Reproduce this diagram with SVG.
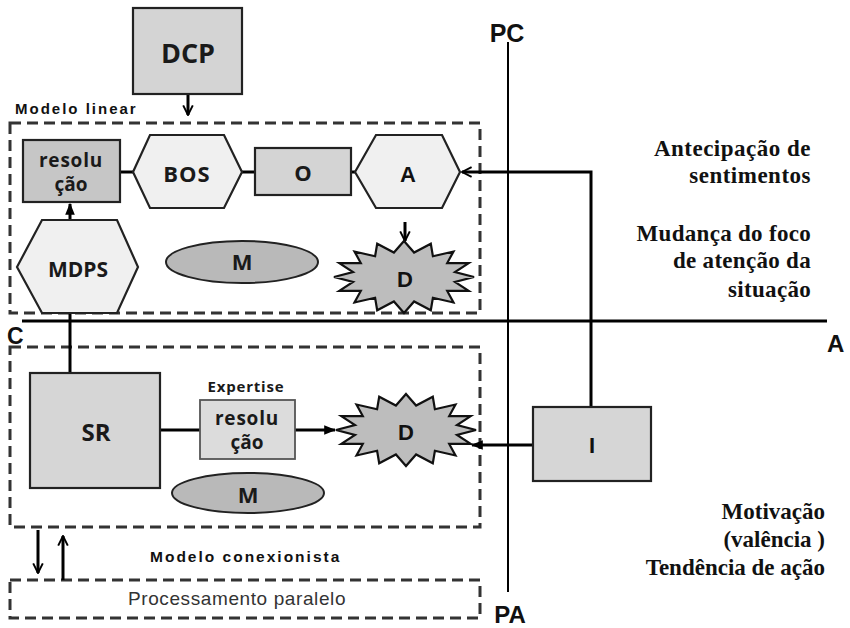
<svg xmlns="http://www.w3.org/2000/svg" width="850" height="628" viewBox="0 0 850 628">
<style>
.box{stroke:#222;stroke-width:2.2}
.dash{fill:none;stroke:#333;stroke-width:3;stroke-dasharray:11 6}
.ln{fill:none;stroke:#000;stroke-width:3}
.sb{font-family:"Open Sans","Liberation Sans",sans-serif;font-weight:bold;fill:#1a1a1a;text-anchor:middle}
.ab{font-family:"Liberation Sans",Arial,sans-serif;font-weight:bold;fill:#111}
.rt{font-family:"Liberation Serif","DejaVu Serif","Times New Roman",serif;font-weight:bold;font-size:23px;fill:#111;text-anchor:end}
.hex{fill:#f0f0f0;stroke:#222;stroke-width:2.2}
.star{fill:#bdbdbd;stroke:#111;stroke-width:2.2}
</style>
<defs>
<marker id="open" viewBox="0 0 10 10" refX="9" refY="5" markerWidth="4" markerHeight="4" orient="auto" markerUnits="strokeWidth">
<path d="M1,1 L9,5 L1,9" fill="none" stroke="#000" stroke-width="1.6"/>
</marker>
<marker id="fill" viewBox="0 0 10 10" refX="9" refY="5" markerWidth="4" markerHeight="4" orient="auto" markerUnits="strokeWidth">
<path d="M0,1 L10,5 L0,9 Z" fill="#000"/>
</marker>
<path id="starshape" d="M0,-36 L10.1,-24.5 L26.8,-33.3 L28.9,-20.8 L49.5,-25.5 L43.2,-13.9 L64.7,-13.8 L51,-4.9 L70,0 L51,4.9 L64.7,13.8 L43.2,13.9 L49.5,25.5 L28.9,20.8 L26.8,33.3 L10.1,24.5 L0,36 L-10.1,24.5 L-26.8,33.3 L-28.9,20.8 L-49.5,25.5 L-43.2,13.9 L-64.7,13.8 L-51,4.9 L-70,0 L-51,-4.9 L-64.7,-13.8 L-43.2,-13.9 L-49.5,-25.5 L-28.9,-20.8 L-26.8,-33.3 L-10.1,-24.5 Z"/>
</defs>
<rect width="850" height="628" fill="#fff"/>

<g id="regions">
<rect class="dash" x="10" y="123" width="470" height="190"/>
<rect class="dash" x="10" y="347" width="470" height="180"/>
<rect class="dash" x="10" y="580" width="470" height="38"/>
<text class="ab" x="15" y="114" font-size="15" letter-spacing="2">Modelo linear</text>
<text class="ab" x="150" y="562" font-size="15.5" letter-spacing="2">Modelo conexionista</text>
<text x="237" y="605" font-family="Liberation Sans, Arial, sans-serif" font-size="19" fill="#333" text-anchor="middle" letter-spacing="0.6">Processamento paralelo</text>
</g>

<g id="axes">
<line x1="22" y1="321" x2="827" y2="321" stroke="#000" stroke-width="3"/>
<line x1="508" y1="42" x2="508" y2="592" stroke="#000" stroke-width="2"/>
<text class="ab" x="507" y="42" font-size="25" text-anchor="middle">PC</text>
<text class="ab" x="510" y="623" font-size="24" text-anchor="middle">PA</text>
<text class="ab" x="7" y="344" font-size="23">C</text>
<text class="ab" x="827" y="352" font-size="24">A</text>
</g>

<g id="labels">
<text class="rt" x="811" y="156" letter-spacing="0.5">Antecipação de</text>
<text class="rt" x="811" y="183" letter-spacing="0.5">sentimentos</text>
<text class="rt" x="811" y="241" letter-spacing="0.3">Mudança do foco</text>
<text class="rt" x="811" y="268" letter-spacing="0.3">de atenção da</text>
<text class="rt" x="811" y="297" letter-spacing="0.3">situação</text>
<text class="rt" x="825" y="519">Motivação</text>
<text class="rt" x="825" y="547">(valência )</text>
<text class="rt" x="825" y="575">Tendência de ação</text>
</g>

<g id="connectors">
<line class="ln" x1="188" y1="94" x2="188" y2="115" stroke-width="2" marker-end="url(#open)"/>
<line class="ln" x1="120" y1="172" x2="133" y2="172"/>
<line class="ln" x1="242" y1="172" x2="255" y2="172"/>
<line class="ln" x1="351" y1="172" x2="355" y2="172"/>
<line class="ln" x1="70" y1="220" x2="70" y2="204" marker-end="url(#fill)"/>
<line class="ln" x1="405" y1="222" x2="405" y2="241" stroke-width="2" marker-end="url(#open)"/>
<path class="ln" d="M591,407 V172 H462" marker-end="url(#open)"/>
<line class="ln" x1="70" y1="313" x2="70" y2="373"/>
<line class="ln" x1="160" y1="430" x2="200" y2="430"/>
<line class="ln" x1="295" y1="430" x2="335" y2="430" marker-end="url(#fill)"/>
<line class="ln" x1="533" y1="445" x2="472" y2="445" marker-end="url(#fill)"/>
<line class="ln" x1="38" y1="530" x2="38" y2="573" stroke-width="2" marker-end="url(#open)"/>
<line class="ln" x1="63" y1="580" x2="63" y2="536" stroke-width="2" marker-end="url(#open)"/>
</g>

<g id="node-dcp">
<rect class="box" x="133" y="8" width="109" height="86" fill="#d4d4d4"/>
<text class="sb" x="188" y="63" font-size="27">DCP</text>
</g>

<g id="node-resolucao-top">
<rect class="box" x="23" y="140" width="97" height="62" fill="#c6c6c6"/>
<text class="sb" x="71" y="167" font-size="19" letter-spacing="0.8">resolu</text>
<text class="sb" x="71" y="191" font-size="19">ção</text>
</g>

<g id="node-bos">
<polygon class="hex" points="133,172 150,135 224,135 242,172 224,208 150,208"/>
<text class="sb" x="187" y="182" font-size="22" letter-spacing="1">BOS</text>
</g>

<g id="node-o">
<rect class="box" x="255" y="148" width="96" height="47" fill="#d4d4d4"/>
<text class="sb" x="303" y="181" font-size="22">O</text>
</g>

<g id="node-a">
<polygon class="hex" points="355,172 376,135 442,135 460,172 442,208 376,208"/>
<text class="ab" x="408" y="182" font-size="22" text-anchor="middle">A</text>
</g>

<g id="node-mdps">
<polygon class="hex" points="17,267 42,220 117,220 138,267 117,313 42,313"/>
<text class="sb" x="78" y="277" font-size="21">MDPS</text>
</g>

<g id="node-m-top">
<ellipse cx="242" cy="262" rx="76" ry="21" fill="#b9b9b9" stroke="#222" stroke-width="2"/>
<text class="sb" x="242" y="270" font-size="22">M</text>
</g>

<g id="node-d-top">
<use href="#starshape" class="star" transform="translate(404,277)"/>
<text class="ab" x="405" y="287" font-size="22" text-anchor="middle">D</text>
</g>

<g id="node-sr">
<rect class="box" x="30" y="373" width="130" height="115" fill="#d6d6d6"/>
<text class="sb" x="96" y="441" font-size="24">SR</text>
</g>

<g id="node-expertise">
<text class="sb" x="246" y="392" font-size="15" letter-spacing="0.8">Expertise</text>
<rect x="200" y="400" width="95" height="59" fill="#dcdcdc" stroke="#555" stroke-width="1.8"/>
<text class="sb" x="247" y="425" font-size="19" letter-spacing="0.8">resolu</text>
<text class="sb" x="247" y="449" font-size="19">ção</text>
</g>

<g id="node-d-bottom">
<use href="#starshape" class="star" transform="translate(406,430)"/>
<text class="ab" x="406" y="440" font-size="22" text-anchor="middle">D</text>
</g>

<g id="node-m-bottom">
<ellipse cx="248" cy="493" rx="76" ry="20" fill="#b9b9b9" stroke="#222" stroke-width="2"/>
<text class="sb" x="248" y="503" font-size="22">M</text>
</g>

<g id="node-i">
<rect class="box" x="533" y="407" width="118" height="74" fill="#d6d6d6"/>
<text class="ab" x="592" y="453" font-size="22" text-anchor="middle">I</text>
</g>
</svg>
